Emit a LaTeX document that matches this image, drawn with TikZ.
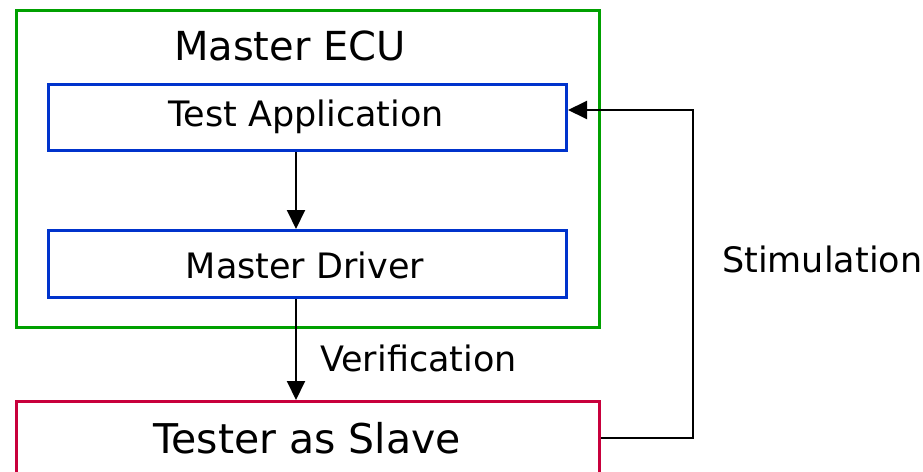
\documentclass[tikz,border=0pt]{standalone}
\usepackage{fontspec}
\setmainfont{DejaVu Sans}
\usetikzlibrary{arrows.meta}
\definecolor{ecugreen}{RGB}{0,160,0}
\definecolor{boxblue}{RGB}{0,51,204}
\definecolor{slavered}{RGB}{200,0,60}
\tikzset{
  box/.style={draw, line width=3pt, inner sep=0pt, anchor=north west},
  conn/.style={draw=black, line width=2pt, -{Triangle[length=19pt,width=18pt]}},
  lbl/.style={inner sep=0pt, font=\fontsize{35}{40}\selectfont}
}
\begin{document}
\begin{tikzpicture}[x=1pt,y=-1pt]
\useasboundingbox (0,0) rectangle (923,471);
\clip (0,0) rectangle (923,471);
\node[box, draw=ecugreen, minimum width=583pt, minimum height=317pt] (ecu) at (15,9) {};
\node[lbl, font=\fontsize{40}{46}\selectfont] (ecutitle) at (290,46) {Master ECU};
\node[box, draw=boxblue, minimum width=518pt, minimum height=66pt] (app) at (47,83) {};
\node[lbl] (apptext) at (306,117) {Test Application};
\node[box, draw=boxblue, minimum width=518pt, minimum height=67pt] (drv) at (47,229) {};
\node[lbl] (drvtext) at (305,265) {Master Driver};
\node[box, draw=slavered, minimum width=583pt, minimum height=76pt] (tester) at (15,400) {};
\node[lbl, font=\fontsize{41}{46}\selectfont] (testertext) at (307,438) {Tester as Slave};
\node[lbl, anchor=west] (verif) at (320,358) {Verification};
\node[lbl, anchor=west] (stim) at (722,259) {Stimulation};
\coordinate (ax) at (296,0);
\coordinate (sc) at (693,110);
\draw[conn] (app.south -| ax) -- (drv.north -| ax);
\draw[conn] (drv.south -| ax) -- (tester.north -| ax);
\draw[conn] (tester.east |- testertext) -| (sc) -- (app.east |- sc);
\end{tikzpicture}
\end{document}
